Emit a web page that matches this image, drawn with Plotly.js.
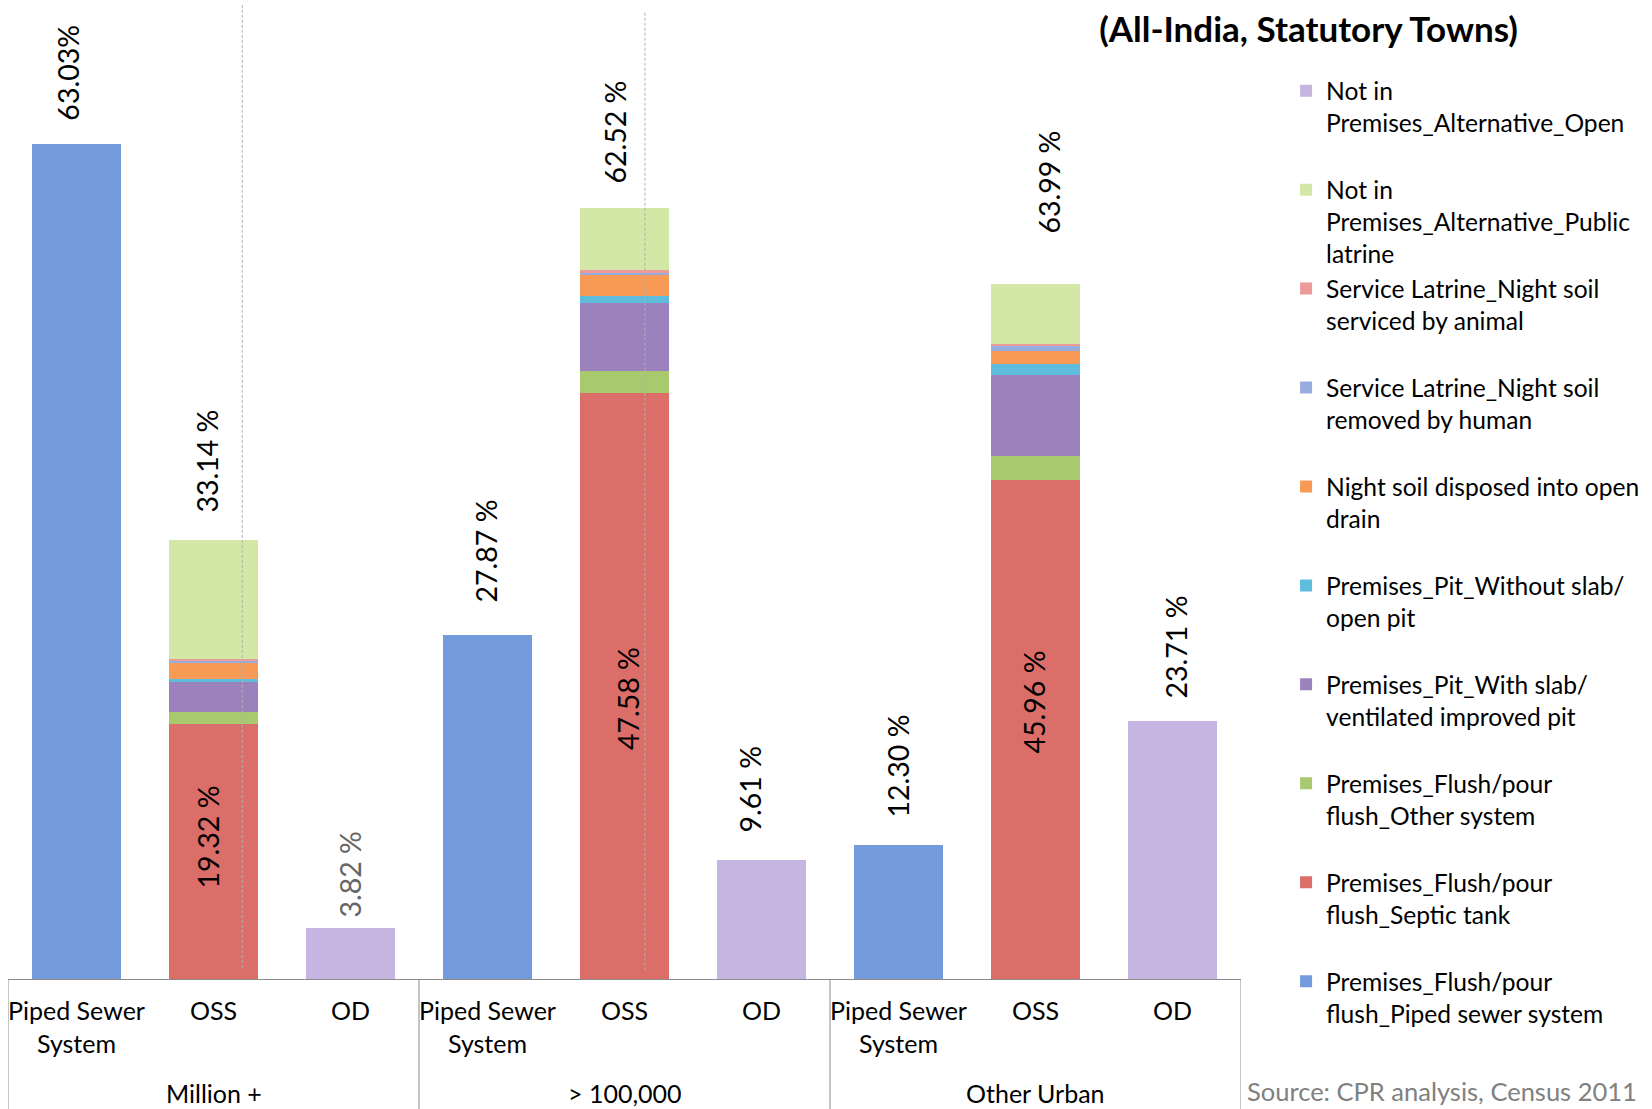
<!DOCTYPE html>
<html>
<head>
<meta charset="utf-8">
<script src="https://cdn.plot.ly/plotly-3.0.1.min.js"></script>
<style>
  html, body { margin: 0; padding: 0; background: #ffffff; }
  #chart { width: 1652px; height: 1109px; }
</style>
</head>
<body>
<div id="chart"></div>
<script>
// ---------------- DATA ----------------
var groups = ['Million +', '> 100,000', 'Other Urban'];
var categories = ['Piped Sewer<br>System', 'OSS', 'OD'];

// bar heights (one value per group)
var pipedSewer    = [63.03, 25.97, 10.11];   // Premises_Flush/pour flush_Piped sewer system
var septicTank    = [19.26, 44.26, 37.64];   // Premises_Flush/pour flush_Septic tank
var flushOther    = [0.91, 1.61, 1.81];      // Premises_Flush/pour flush_Other system
var pitWithSlab   = [2.27, 5.19, 6.17];      // Premises_Pit_With slab/ventilated improved pit
var pitNoSlab     = [0.17, 0.53, 0.83];      // Premises_Pit_Without slab/open pit
var openDrain     = [1.28, 1.53, 0.93];      // Night soil disposed into open drain
var byHuman       = [0.08, 0.20, 0.43];      // Service Latrine_Night soil removed by human
var byAnimal      = [0.18, 0.20, 0.15];      // Service Latrine_Night soil serviced by animal
var publicLatrine = [9.01, 4.70, 4.53];      // Not in Premises_Alternative_Public latrine
var openDefec     = [3.85, 8.98, 19.47];     // Not in Premises_Alternative_Open

// value labels as printed on the chart
var pipedLabels = ['63.03%', '27.87 %', '12.30 %'];
var ossLabels   = ['33.14 %', '62.52 %', '63.99 %'];
var odLabels    = ['3.82 %', '9.61 %', '23.71 %'];
var septicLabels = ['19.32 %', '47.58 %', '45.96 %'];

var seriesNames = [
  'Premises_Flush/pour<br>flush_Piped sewer system<br>\u00a0',
  'Premises_Flush/pour<br>flush_Septic tank<br>\u00a0',
  'Premises_Flush/pour<br>flush_Other system<br>\u00a0',
  'Premises_Pit_With slab/<br>ventilated improved pit<br>\u00a0',
  'Premises_Pit_Without slab/<br>open pit<br>\u00a0',
  'Night soil disposed into open<br>drain<br>\u00a0',
  'Service Latrine_Night soil<br>removed by human<br>\u00a0',
  'Service Latrine_Night soil<br>serviced by animal<br>\u00a0',
  'Not in<br>Premises_Alternative_Public<br>latrine',
  'Not in<br>Premises_Alternative_Open<br>\u00a0'
];

// ---------------- STYLE ----------------
var colors = ['#739bdb', '#dc6e6a', '#a9c96f', '#9b82bd', '#5ebcdc',
              '#f69a56', '#97acdf', '#ec9a9a', '#d3e8a6', '#c6b5e0'];
var FONT = 'Lato, "Open Sans", sans-serif';

// x position of a (group, category) slot
function slot(g, c) { return g * categories.length + c; }
function slotsFor(c) { return groups.map(function (_, g) { return slot(g, c); }); }

var pipedX = slotsFor(0), ossX = slotsFor(1), odX = slotsFor(2);

var stackSeries = [
  [pipedX, pipedSewer],
  [ossX, septicTank],
  [ossX, flushOther],
  [ossX, pitWithSlab],
  [ossX, pitNoSlab],
  [ossX, openDrain],
  [ossX, byHuman],
  [ossX, byAnimal],
  [ossX, publicLatrine],
  [odX, openDefec]
];

var traces = stackSeries.map(function (s, i) {
  return {
    type: 'bar',
    x: s[0],
    y: s[1],
    name: seriesNames[i],
    marker: { color: colors[i], line: { width: 0 } },
    hoverinfo: 'skip'
  };
});

// tick labels
var tickVals = [], tickText = [];
groups.forEach(function (g, gi) {
  categories.forEach(function (c, ci) {
    tickVals.push(slot(gi, ci));
    tickText.push(c);
  });
});

// value label annotations: [slot, label, y (data units, centre), x shift px, colour]
var labelPlacement = [
  [slot(0,0), pipedLabels[0], 68.38, -8, '#000'],
  [slot(0,1), ossLabels[0],   39.10, -6, '#000'],
  [slot(0,2), odLabels[0],     7.85,  0, '#666'],
  [slot(1,0), pipedLabels[1], 32.31, -2, '#000'],
  [slot(1,1), ossLabels[1],   63.93, -9, '#000'],
  [slot(1,2), odLabels[1],    14.27, -12, '#000'],
  [slot(2,0), pipedLabels[2], 16.08, -1, '#000'],
  [slot(2,1), ossLabels[2],   60.16, 14, '#000'],
  [slot(2,2), odLabels[2],    25.06,  4, '#000'],
  [slot(0,1), septicLabels[0], 10.72, -6, '#000'],
  [slot(1,1), septicLabels[1], 21.17,  3, '#000'],
  [slot(2,1), septicLabels[2], 20.91, -2, '#000']
];

var annotations = labelPlacement.map(function (p) {
  return {
    x: p[0], y: p[2], xref: 'x', yref: 'y',
    text: p[1], showarrow: false, textangle: -90,
    xanchor: 'center', yanchor: 'middle', xshift: p[3],
    font: { family: FONT, size: 28.5, color: p[4] }
  };
});

// group labels
groups.forEach(function (g, gi) {
  annotations.push({
    x: slot(gi, 1), y: -0.1165, xref: 'x', yref: 'paper',
    text: g, showarrow: false, xanchor: 'center', yanchor: 'middle',
    font: { family: FONT, size: 25, color: '#000' }
  });
});

annotations.push({
  x: 1.0032, y: -0.1149, xref: 'paper', yref: 'paper',
  text: 'Source: CPR analysis, Census 2011', showarrow: false,
  xanchor: 'left', yanchor: 'middle',
  font: { family: FONT, size: 25.5, color: '#808080' }
});

// group dividers
var shapes = [];
for (var g = 0; g <= groups.length; g++) {
  var xb = g * categories.length - 0.5;
  shapes.push({
    type: 'line', xref: 'x', yref: 'paper',
    x0: xb, x1: xb, y0: 0, y1: -0.14,
    line: { color: '#8c8c8c', width: 1 }
  });
}
// faint dashed guide lines
shapes.push({ type: 'line', xref: 'paper', yref: 'paper', x0: 0.190, x1: 0.190, y0: 0.995, y1: 0.009,
  line: { color: '#b0b0b0', width: 1, dash: '3px,2px' }, layer: 'above' });
shapes.push({ type: 'line', xref: 'paper', yref: 'paper', x0: 0.5166, x1: 0.5166, y0: 0.987, y1: 0.009,
  line: { color: '#b0b0b0', width: 1, dash: '3px,2px' }, layer: 'above' });

var layout = {
  width: 1652,
  height: 1109,
  paper_bgcolor: '#ffffff',
  plot_bgcolor: '#ffffff',
  margin: { l: 8, r: 411, t: 0, b: 130, autoexpand: false },
  barmode: 'stack',
  bargap: 0.35,
  font: { family: FONT, size: 24, color: '#000' },
  title: {
    text: '<b>(All-India, Statutory Towns)</b>',
    x: 0.7921, y: 0.9734, xref: 'container', yref: 'container',
    xanchor: 'center', yanchor: 'middle',
    font: { family: FONT, size: 35, color: '#000' }
  },
  xaxis: {
    range: [-0.5, groups.length * categories.length - 0.5],
    tickvals: tickVals,
    ticktext: tickText,
    ticks: '',
    showgrid: false,
    zeroline: false,
    showline: true,
    linecolor: '#8c8c8c',
    linewidth: 1,
    ticklabelstandoff: 10,
    tickfont: { family: FONT, size: 25, color: '#000' },
    automargin: false,
    fixedrange: true
  },
  yaxis: {
    range: [0, 73.9],
    showgrid: false,
    zeroline: false,
    showline: false,
    showticklabels: false,
    ticks: '',
    automargin: false,
    fixedrange: true
  },
  legend: {
    traceorder: 'reversed',
    xref: 'container', yref: 'container',
    x: 0.7785, y: 0.9385, xanchor: 'left', yanchor: 'top',
    valign: 'top',
    maxheight: 1100,
    bgcolor: 'rgba(0,0,0,0)',
    borderwidth: 0,
    font: { family: FONT, size: 24.6, color: '#000' },
    tracegroupgap: 0
  },
  showlegend: true,
  annotations: annotations,
  shapes: shapes
};

Plotly.newPlot('chart', traces, layout, { displayModeBar: false, staticPlot: true });
</script>
</body>
</html>
